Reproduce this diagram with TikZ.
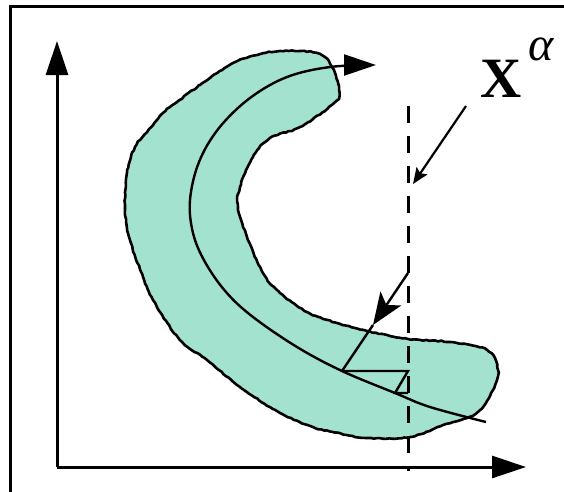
\documentclass[tikz,border=0pt]{standalone}
\usepackage{fontspec}
\setmainfont{Liberation Serif}
\usetikzlibrary{arrows.meta,decorations.pathmorphing}
\definecolor{blobfill}{RGB}{164,226,208}
\tikzset{
  axisline/.style={line width=3pt,-{Triangle[length=34pt,width=22pt]}},
  blobline/.style={line width=2.6pt,fill=blobfill,line join=round,
    decorate,decoration={random steps,segment length=3pt,amplitude=0.5pt}},
  curveline/.style={line width=2.4pt},
  bigtip/.style={line width=2.4pt,-{Stealth[length=32pt,width=25pt,inset=8pt]}},
  smalltip/.style={line width=2.2pt,-{Stealth[length=16pt,width=13pt,inset=3pt]}},
  thinline/.style={line width=2.4pt,line join=miter},
  dashline/.style={line width=3pt,dash pattern=on 17pt off 13pt},
  framestyle/.style={line width=3pt}
}
\begin{document}
\begin{tikzpicture}[x=1pt,y=-1pt]
\useasboundingbox (0,0) rectangle (564,491);
% frame
\coordinate (fbl) at (10,493);
\coordinate (ftl) at (10,6);
\coordinate (ftr) at (566,6);
\draw[framestyle] (fbl) -- (ftl) -- (ftr);
% blob
\pgfmathsetseed{7}
\path[blobline,draw=black] plot[smooth cycle,tension=0.6] coordinates {
 (280,51) (317,53) (332,67) (339,90) (334,103) (300,127) (270,138) (253,157)
 (240,187) (238,207) (247,237) (263,273) (280,293) (307,312) (337,323) (367,331)
 (408,339) (450,342) (487,350) (498,370) (493,390) (480,410) (467,418) (443,425)
 (410,437) (367,438) (333,432) (313,427) (280,413) (240,387) (207,360) (180,340)
 (153,300) (143,277) (130,240) (125,210) (127,173) (135,147) (147,132) (163,113)
 (177,102) (200,85) (233,63) (257,55)};
% axes
\coordinate (O) at (57,467);
\coordinate (ytip) at (57,41);
\coordinate (xtip) at (526,467);
\draw[axisline] (O) -- (ytip);
\draw[axisline] (O) -- (xtip);
% curve
\coordinate (p1) at (342,371);
\coordinate (p2) at (395,393);
\draw[curveline,-{Triangle[length=32pt,width=21pt]}] plot[smooth,tension=0.6] coordinates {
 (486,422) (430,407) (p2) (p1) (297,347) (253,317) (226,292) (205,262) (193,233)
 (190,200) (199,162) (219,128) (250,98) (287,77) (330,67) (376,65)};
% dashed line
\coordinate (dtop) at (408,106);
\coordinate (dbot) at (408,471);
\draw[dashline] (dtop) -- (dbot);
% zig-zag
\coordinate (q1) at (408,371);
\coordinate (q2) at (408,393);
\draw[thinline] (p1) -- (q1) -- (p2) -- (q2);
% arrow from dashed line
\coordinate (a1) at (408,273);
\coordinate (a2) at (373,325);
\draw[bigtip] (a1) -- (a2);
\draw[curveline] (a2) -- (p1);
% label
\node[inner sep=0pt,font=\fontsize{57}{60}\selectfont\bfseries] (X) at (501,79) {X};
\node[inner sep=0pt,font=\fontsize{48}{50}\selectfont\itshape] (alpha) at (541,49) {α};
\coordinate (b1) at (466,106);
\coordinate (b2) at (413,184);
\draw[smalltip] (b1) -- (b2);
\end{tikzpicture}
\end{document}
